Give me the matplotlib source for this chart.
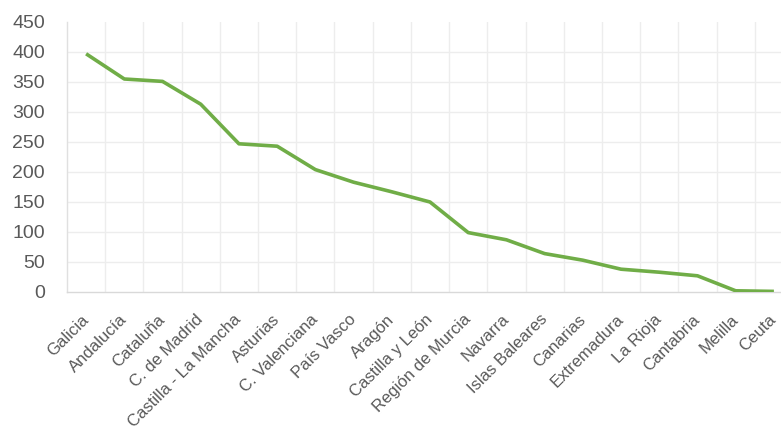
import matplotlib
matplotlib.use('Agg')
import matplotlib.pyplot as plt
import numpy as np

# comunidades y valores
regiones = ['Galicia', 'Andalucía', 'Cataluña', 'C. de Madrid', 'Castilla - La Mancha',
            'Asturias', 'C. Valenciana', 'País Vasco', 'Aragón', 'Castilla y León',
            'Región de Murcia', 'Navarra', 'Islas Baleares', 'Canarias', 'Extremadura',
            'La Rioja', 'Cantabria', 'Melilla', 'Ceuta']
valores = [397, 355, 351, 313, 247, 243, 204, 183, 167, 150,
           99, 87, 64, 53, 38, 33, 27, 2, 1]
yticks = [0, 50, 100, 150, 200, 250, 300, 350, 400, 450]

plt.rcParams['font.family'] = ['Liberation Sans', 'DejaVu Sans']

W, H = 781, 430
fig = plt.figure(figsize=(W / 100, H / 100), dpi=100)
# plot area runs past the right edge, like the cropped original
ax = fig.add_axes([67 / W, 138 / H, (793 - 67) / W, 270 / H])

x = np.arange(len(regiones))
ax.plot(x, valores, color='#70AD47', lw=2.6, solid_capstyle='butt', zorder=3)

ax.set_xlim(-0.5, len(regiones) - 0.5)
ax.set_ylim(0, 450)
ax.set_yticks(yticks)
ax.set_yticklabels([str(v) for v in yticks], fontsize=14, color='#595959')
ax.set_xticks(x)
ax.set_xticklabels(regiones, rotation=45, ha='right', va='center',
                   rotation_mode='anchor', fontsize=12, color='#595959')

# vertical lines between categories
for b in np.arange(0.5, len(regiones) - 0.5, 1):
    ax.axvline(b, color='#EDEDED', lw=1.0, zorder=1)
for v in yticks[1:-1]:
    ax.axhline(v, color='#EDEDED', lw=1.0, zorder=1)

for s in ['top', 'right']:
    ax.spines[s].set_visible(False)
ax.spines['left'].set_color('#E0E0E0')
ax.spines['bottom'].set_color('#D9D9D9')
ax.spines['left'].set_linewidth(1.0)
ax.spines['bottom'].set_linewidth(1.0)
ax.tick_params(axis='both', length=0)
ax.tick_params(axis='y', pad=16)
ax.tick_params(axis='x', pad=18)

fig.savefig('out.png', dpi=100)
